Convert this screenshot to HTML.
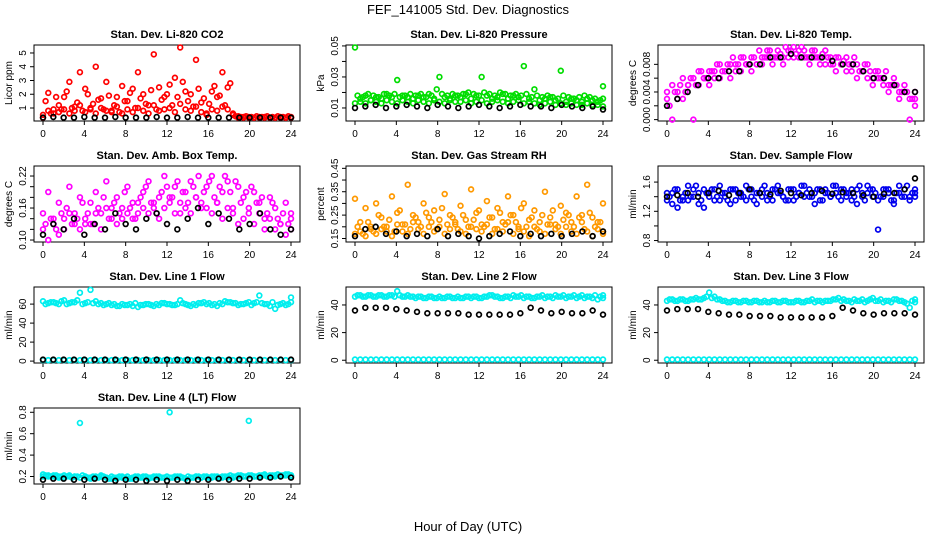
<!DOCTYPE html>
<html><head><meta charset="utf-8"><style>
body{margin:0;background:#fff;}
svg{display:block;font-family:"Liberation Sans",sans-serif;}
</style></head><body>
<svg id="c" width="936" height="540">
<text x="468" y="14" text-anchor="middle" font-size="13">FEF_141005  Std. Dev. Diagnostics</text>
<text x="468" y="531" text-anchor="middle" font-size="13">Hour of Day (UTC)</text>
</svg>
<script>
const xTicks=[0,4,8,12,16,20,24];
const titles=["Stan. Dev. Li-820 CO2","Stan. Dev. Li-820 Pressure","Stan. Dev. Li-820 Temp.","Stan. Dev. Amb. Box Temp.","Stan. Dev. Gas Stream RH","Stan. Dev. Sample Flow","Stan. Dev. Line 1 Flow","Stan. Dev. Line 2 Flow","Stan. Dev. Line 3 Flow","Stan. Dev. Line 4 (LT) Flow"];
const yLabels=["Licor ppm","kPa","degrees C","degrees C","percent","ml/min","ml/min","ml/min","ml/min","ml/min"];
const yTickVals=[[1,2,3,4,5],[0.01,0.02,0.03,0.04,0.05],[0,0.002,0.004,0.006,0.008],[0.10,0.12,0.14,0.16,0.18,0.20,0.22],[0.15,0.20,0.25,0.30,0.35,0.40,0.45],[0.8,1.0,1.2,1.4,1.6],[0,20,40,60],[0,20,40],[0,20,40],[0.2,0.4,0.6,0.8]];
const yTickLabels=[["1","2","3","4","5"],["0.01","","0.03","","0.05"],["0.000","","0.004","","0.008"],["0.10","","","0.16","","","0.22"],["0.15","","0.25","","0.35","","0.45"],["0.8","","1.2","","1.6"],["0","20","40","60"],["0","20","40"],["0","20","40"],["0.2","0.4","0.6","0.8"]];
const yDomains=[[0.055,5.58],[0.0016,0.0506],[-0.0002,0.0108],[0.0963,0.2388],[0.135,0.46],[0.78,1.82],[-2,78],[-2,53],[-2,53],[0.13,0.84]];
const colors=["#ff0000","#00dd00","#ff00ff","#ff00ff","#ff9900","#0000ee","#00eeee","#00eeee","#00eeee","#00eeee"];
const mainA=[
[0.3,2.1,0.9,1.2,1.8,2.9,1.1,3.6,2.4,1.0,4.0,1.7,2.9,0.8,1.8,2.6,1.5,2.4,3.6,2.0,1.2,4.9,2.5,1.8,2.7,3.2,5.4,2.2,2.0,4.5,1.4,0.6,2.2,1.8,3.6,2.5,0.6,0.4,0.35,0.35,0.3,0.35,0.35,0.3,0.3,0.35,0.3,0.3],
[0.049,0.016,0.018,0.015,0.017,0.016,0.019,0.017,0.028,0.018,0.017,0.016,0.018,0.017,0.019,0.016,0.030,0.017,0.016,0.018,0.017,0.019,0.016,0.018,0.030,0.018,0.016,0.017,0.019,0.016,0.018,0.017,0.037,0.016,0.022,0.015,0.016,0.017,0.015,0.034,0.014,0.016,0.015,0.014,0.016,0.015,0.014,0.024],
[0.004,0.005,0.003,0.006,0.005,0.006,0.007,0.006,0.007,0.006,0.008,0.007,0.008,0.007,0.009,0.008,0.009,0.008,0.009,0.010,0.009,0.010,0.009,0.010,0.0105,0.010,0.010,0.009,0.010,0.009,0.010,0.009,0.009,0.008,0.009,0.008,0.008,0.007,0.008,0.006,0.007,0.006,0.005,0.006,0.004,0.005,0.003,0.004],
[0.15,0.19,0.13,0.17,0.14,0.20,0.15,0.18,0.13,0.17,0.19,0.15,0.21,0.16,0.18,0.14,0.20,0.17,0.15,0.19,0.21,0.16,0.18,0.22,0.17,0.20,0.15,0.19,0.21,0.18,0.16,0.20,0.22,0.17,0.19,0.21,0.16,0.20,0.18,0.15,0.19,0.17,0.14,0.18,0.16,0.13,0.17,0.15],
[0.32,0.22,0.28,0.19,0.30,0.24,0.20,0.33,0.26,0.21,0.38,0.25,0.22,0.30,0.24,0.27,0.20,0.34,0.25,0.22,0.29,0.23,0.36,0.26,0.21,0.31,0.24,0.28,0.22,0.33,0.25,0.20,0.30,0.23,0.27,0.22,0.35,0.24,0.21,0.29,0.26,0.22,0.33,0.25,0.38,0.24,0.22,0.30],
[1.45,1.3,1.5,1.35,1.55,1.4,1.3,1.5,1.45,1.35,1.55,1.4,1.5,1.35,1.45,1.55,1.4,1.3,1.5,1.45,1.35,1.55,1.4,1.5,1.35,1.45,1.55,1.4,1.3,1.5,1.45,1.4,1.55,1.35,1.45,1.5,1.3,1.45,1.55,1.4,1.35,1.5,1.45,1.3,1.55,1.4,1.35,1.5],
[63,61,62,60,64,61,62,72,61,75,63,61,60,59,58,60,59,58,57,59,60,58,59,61,60,59,64,60,58,59,61,60,59,58,60,62,61,59,60,62,61,69,60,58,55,60,59,67],
[46,47,46,47,46,47,46,47,50,46,47,46,46,45,46,45,46,45,46,45,45,46,45,46,45,46,47,46,45,46,47,46,45,46,45,46,45,46,47,46,45,46,45,47,46,45,44,47],
[43,44,43,44,43,44,44,45,49,46,44,43,42,43,42,43,42,43,42,42,43,42,43,42,42,43,42,43,42,43,43,43,44,43,43,42,43,44,43,45,43,42,43,44,43,42,38,44],
[0.2,0.21,0.2,0.19,0.21,0.2,0.2,0.7,0.2,0.19,0.2,0.21,0.19,0.2,0.18,0.19,0.2,0.18,0.19,0.2,0.19,0.2,0.19,0.19,0.8,0.19,0.2,0.18,0.19,0.2,0.19,0.2,0.19,0.2,0.19,0.2,0.19,0.2,0.2,0.72,0.2,0.2,0.21,0.2,0.21,0.2,0.21,0.2]];
const mainB=[
[0.5,0.8,0.6,0.7,0.9,0.6,0.8,1.2,0.7,0.9,0.6,1.0,0.8,0.7,1.1,0.6,0.9,0.7,1.0,0.8,0.6,1.2,0.8,0.9,1.0,0.7,1.3,0.9,0.8,1.1,0.7,0.5,0.9,0.8,1.1,0.9,0.5,0.3,0.3,0.3,0.3,0.3,0.3,0.3,0.3,0.3,0.3,0.3],
[0.013,0.014,0.013,0.015,0.014,0.013,0.015,0.014,0.013,0.015,0.014,0.013,0.015,0.014,0.013,0.015,0.014,0.013,0.015,0.014,0.014,0.015,0.013,0.014,0.015,0.013,0.014,0.015,0.014,0.013,0.014,0.015,0.013,0.014,0.013,0.012,0.013,0.014,0.012,0.013,0.012,0.013,0.012,0.012,0.013,0.012,0.012,0.011],
[0.003,0.0,0.004,0.003,0.005,0.0,0.005,0.006,0.005,0.007,0.006,0.007,0.006,0.008,0.007,0.008,0.007,0.008,0.008,0.009,0.008,0.009,0.008,0.009,0.009,0.009,0.009,0.008,0.009,0.008,0.008,0.008,0.007,0.008,0.007,0.007,0.006,0.007,0.006,0.005,0.006,0.005,0.004,0.005,0.003,0.004,0.0,0.002],
[0.12,0.10,0.14,0.11,0.12,0.15,0.13,0.12,0.14,0.13,0.15,0.12,0.16,0.14,0.13,0.16,0.15,0.14,0.17,0.16,0.15,0.17,0.14,0.16,0.18,0.15,0.17,0.16,0.15,0.18,0.17,0.16,0.15,0.17,0.14,0.16,0.15,0.13,0.14,0.16,0.13,0.15,0.12,0.14,0.12,0.13,0.11,0.12],
[0.17,0.18,0.16,0.20,0.17,0.19,0.18,0.16,0.21,0.18,0.17,0.22,0.19,0.17,0.20,0.18,0.23,0.17,0.19,0.21,0.18,0.17,0.20,0.19,0.18,0.21,0.17,0.19,0.18,0.22,0.17,0.19,0.18,0.16,0.20,0.18,0.17,0.21,0.19,0.17,0.20,0.18,0.17,0.22,0.18,0.16,0.19,0.17],
[1.35,1.45,1.25,1.4,1.35,1.5,1.45,1.25,1.4,1.5,1.35,1.45,1.3,1.5,1.4,1.35,1.5,1.45,1.4,1.35,1.5,1.45,1.4,1.35,1.5,1.45,1.4,1.5,1.45,1.35,1.5,1.4,1.45,1.5,1.4,1.35,1.5,1.4,1.45,1.5,0.95,1.4,1.5,1.35,1.45,1.5,1.4,1.45],
[1,1,1,1,1,1,1,1,1,1,1,1,1,1,1,1,1,1,1,1,1,1,1,1,1,1,1,1,1,1,1,1,1,1,1,1,1,1,1,1,1,1,1,1,1,1,1,1],
[0.5,0.5,0.5,0.5,0.5,0.5,0.5,0.5,0.5,0.5,0.5,0.5,0.5,0.5,0.5,0.5,0.5,0.5,0.5,0.5,0.5,0.5,0.5,0.5,0.5,0.5,0.5,0.5,0.5,0.5,0.5,0.5,0.5,0.5,0.5,0.5,0.5,0.5,0.5,0.5,0.5,0.5,0.5,0.5,0.5,0.5,0.5,0.5],
[0.5,0.5,0.5,0.5,0.5,0.5,0.5,0.5,0.5,0.5,0.5,0.5,0.5,0.5,0.5,0.5,0.5,0.5,0.5,0.5,0.5,0.5,0.5,0.5,0.5,0.5,0.5,0.5,0.5,0.5,0.5,0.5,0.5,0.5,0.5,0.5,0.5,0.5,0.5,0.5,0.5,0.5,0.5,0.5,0.5,0.5,0.5,0.5],
[0.22,0.2,0.21,0.2,0.19,0.21,0.2,0.19,0.2,0.18,0.19,0.2,0.19,0.18,0.19,0.2,0.18,0.19,0.2,0.19,0.18,0.19,0.2,0.19,0.19,0.2,0.19,0.18,0.19,0.2,0.19,0.19,0.2,0.19,0.2,0.19,0.2,0.21,0.2,0.21,0.2,0.21,0.22,0.21,0.2,0.21,0.22,0.21]];
const mainC=[
[1.5,0.6,1.8,0.9,2.2,1.0,1.4,0.8,2.0,1.3,1.6,0.9,1.9,1.2,0.7,1.5,2.1,1.0,1.7,1.3,2.3,0.9,1.6,2.0,1.2,1.8,2.9,1.5,1.1,2.4,1.7,1.3,2.6,1.9,1.2,2.8,0.4,0.35,0.4,0.35,0.4,0.35,0.4,0.35,0.4,0.35,0.4,0.35],
[0.018,0.017,0.019,0.018,0.017,0.019,0.018,0.019,0.017,0.018,0.019,0.018,0.019,0.017,0.018,0.022,0.019,0.018,0.019,0.018,0.019,0.02,0.019,0.018,0.02,0.019,0.018,0.02,0.019,0.018,0.019,0.018,0.019,0.017,0.018,0.017,0.018,0.017,0.016,0.018,0.017,0.016,0.017,0.018,0.017,0.016,0.015,0.016],
[0.002,0.004,0.005,0.004,0.006,0.005,0.007,0.006,0.007,0.008,0.007,0.008,0.009,0.008,0.009,0.008,0.009,0.010,0.009,0.010,0.009,0.0095,0.0105,0.010,0.0095,0.0105,0.009,0.010,0.009,0.0095,0.009,0.008,0.009,0.0085,0.008,0.009,0.007,0.008,0.007,0.007,0.006,0.007,0.005,0.005,0.004,0.004,0.003,0.003],
[0.13,0.14,0.12,0.15,0.16,0.13,0.14,0.17,0.15,0.13,0.16,0.18,0.14,0.17,0.15,0.19,0.16,0.14,0.18,0.2,0.17,0.15,0.19,0.2,0.18,0.21,0.19,0.17,0.2,0.22,0.19,0.21,0.18,0.2,0.22,0.19,0.21,0.17,0.19,0.2,0.17,0.18,0.15,0.17,0.14,0.15,0.13,0.14],
[0.2,0.17,0.22,0.18,0.25,0.2,0.23,0.18,0.27,0.21,0.19,0.24,0.2,0.26,0.22,0.19,0.28,0.21,0.24,0.19,0.25,0.2,0.23,0.27,0.2,0.24,0.19,0.26,0.21,0.25,0.22,0.28,0.2,0.24,0.19,0.25,0.21,0.27,0.2,0.23,0.25,0.2,0.24,0.19,0.26,0.2,0.22,0.18],
[1.4,1.5,1.35,1.45,1.4,1.55,1.35,1.45,1.5,1.4,1.45,1.35,1.5,1.45,1.4,1.5,1.35,1.45,1.55,1.4,1.5,1.45,1.35,1.5,1.4,1.55,1.45,1.4,1.5,1.35,1.45,1.55,1.4,1.5,1.45,1.4,1.55,1.35,1.5,1.45,1.4,1.5,1.35,1.45,1.4,1.55,1.45,1.4],
[60,62,61,63,60,62,64,60,62,61,60,59,61,60,58,59,60,61,59,60,59,60,61,60,59,60,61,59,60,61,62,61,60,61,63,62,61,60,61,59,62,61,60,62,59,61,60,62],
[47,46,47,46,47,46,47,46,47,46,46,45,46,45,46,45,45,46,45,46,45,46,46,45,46,47,46,45,46,45,46,47,46,45,46,47,46,45,46,47,46,47,46,45,46,47,46,45],
[44,43,44,43,44,45,44,46,45,44,43,42,43,42,43,42,43,42,43,42,43,42,43,42,43,42,43,44,43,42,43,44,45,44,43,44,43,42,44,43,44,43,42,44,43,41,43,42],
[0.21,0.2,0.21,0.2,0.2,0.19,0.2,0.21,0.19,0.2,0.19,0.2,0.18,0.19,0.2,0.19,0.18,0.2,0.19,0.2,0.19,0.2,0.19,0.2,0.19,0.2,0.19,0.2,0.19,0.2,0.2,0.19,0.2,0.19,0.2,0.21,0.2,0.21,0.2,0.21,0.2,0.21,0.2,0.21,0.22,0.21,0.22,0.21]];
const blackS=[
[0.3,0.35,0.3,0.3,0.35,0.3,0.3,0.35,0.3,0.3,0.3,0.35,0.3,0.3,0.35,0.3,0.3,0.3,0.3,0.3,0.3,0.3,0.3,0.3,0.3],
[0.01,0.011,0.012,0.01,0.011,0.012,0.011,0.01,0.012,0.011,0.01,0.011,0.012,0.011,0.01,0.011,0.012,0.011,0.011,0.01,0.012,0.011,0.01,0.011,0.009],
[0.002,0.003,0.004,0.005,0.006,0.006,0.007,0.007,0.008,0.008,0.009,0.009,0.0095,0.009,0.009,0.009,0.0085,0.008,0.008,0.007,0.006,0.006,0.005,0.004,0.004],
[0.11,0.13,0.12,0.14,0.11,0.13,0.12,0.15,0.13,0.12,0.14,0.15,0.13,0.12,0.14,0.16,0.13,0.15,0.14,0.12,0.13,0.15,0.12,0.11,0.12],
[0.16,0.19,0.2,0.17,0.18,0.16,0.17,0.16,0.19,0.16,0.17,0.16,0.15,0.16,0.17,0.18,0.16,0.17,0.16,0.17,0.16,0.17,0.18,0.16,0.18],
[1.4,1.42,1.45,1.4,1.45,1.48,1.42,1.45,1.5,1.45,1.43,1.48,1.45,1.42,1.45,1.48,1.44,1.46,1.45,1.42,1.4,1.44,1.45,1.5,1.65],
[1.5,1.5,1.5,1.5,1.5,1.5,1.5,1.5,1.5,1.5,1.5,1.5,1.5,1.5,1.5,1.5,1.5,1.5,1.5,1.5,1.5,1.5,1.5,1.5,1.5],
[36,38,38,38,37,36,35,34,34,34,34,33,33,33,33,33,34,38,36,34,35,34,34,36,33],
[36,37,37,37,35,34,33,33,32,32,32,31,31,31,31,31,32,38,36,34,33,34,34,34,33],
[0.17,0.18,0.18,0.17,0.17,0.18,0.17,0.16,0.17,0.17,0.16,0.17,0.16,0.17,0.16,0.17,0.17,0.18,0.17,0.18,0.18,0.19,0.19,0.2,0.19]];

const svg=document.getElementById('c');
const NS="http://www.w3.org/2000/svg";
function mk(tag,attrs,parent){const e=document.createElementNS(NS,tag);for(const k in attrs)e.setAttribute(k,attrs[k]);(parent||svg).appendChild(e);return e;}
const colX=[34,346,658],rowY=[45,166,287,408],W=266,H=76;
for(let p=0;p<10;p++){
  const x0=colX[p%3],y0=rowY[Math.floor(p/3)];
  const g=mk('g',{});
  
  
  const sx=v=>x0+9+v/24*(W-18);
  const [d0,d1]=yDomains[p];
  const sy=v=>y0+H-(v-d0)/(d1-d0)*H;
  const t=mk('text',{x:x0+W/2,y:y0-7,'text-anchor':'middle','font-size':11,'font-weight':'bold'},g);t.textContent=titles[p];
  
  const r=mk('rect',{x:x0,y:y0,width:W,height:H,fill:'none',stroke:'#000','stroke-width':1},g);
  
  xTicks.forEach(v=>{const X=sx(v);mk('line',{x1:X,x2:X,y1:y0+H,y2:y0+H+4,stroke:'#000'},g);
    const l=mk('text',{x:X,y:y0+H+16,'text-anchor':'middle','font-size':10},g);l.textContent=v;
    });
  const tv=yTickVals[p],tl=yTickLabels[p];
  tv.forEach((v,i)=>{const Y=sy(v);mk('line',{x1:x0-4,x2:x0,y1:Y,y2:Y,stroke:'#000'},g);
    if(tl[i]){const l=mk('text',{x:x0-8,y:Y,'text-anchor':'middle','font-size':10,transform:`rotate(-90 ${x0-8} ${Y})`},g);l.textContent=tl[i];
    }});
  const yt=mk('text',{x:x0-22,y:y0+H/2,'text-anchor':'middle','font-size':10,transform:`rotate(-90 ${x0-22} ${y0+H/2})`},g);yt.textContent=yLabels[p];
  
  const draw=(arr,col,name,off)=>{const n=arr.length;arr.forEach((v,i)=>{const hr=Math.min(24,i*24/(n-1)+off);const c=mk('circle',{cx:sx(hr),cy:sy(v),r:2.4,fill:'none',stroke:col,'stroke-width':1.7},g);
    });};
  draw(mainB[p],colors[p],'point-secondary',0);
  draw(mainC[p],colors[p],'point-tertiary',0.25);
  draw(mainA[p],colors[p],'point-primary',0);
  draw(blackS[p],'#000','point-black',0);
}
</script>
</body></html>
